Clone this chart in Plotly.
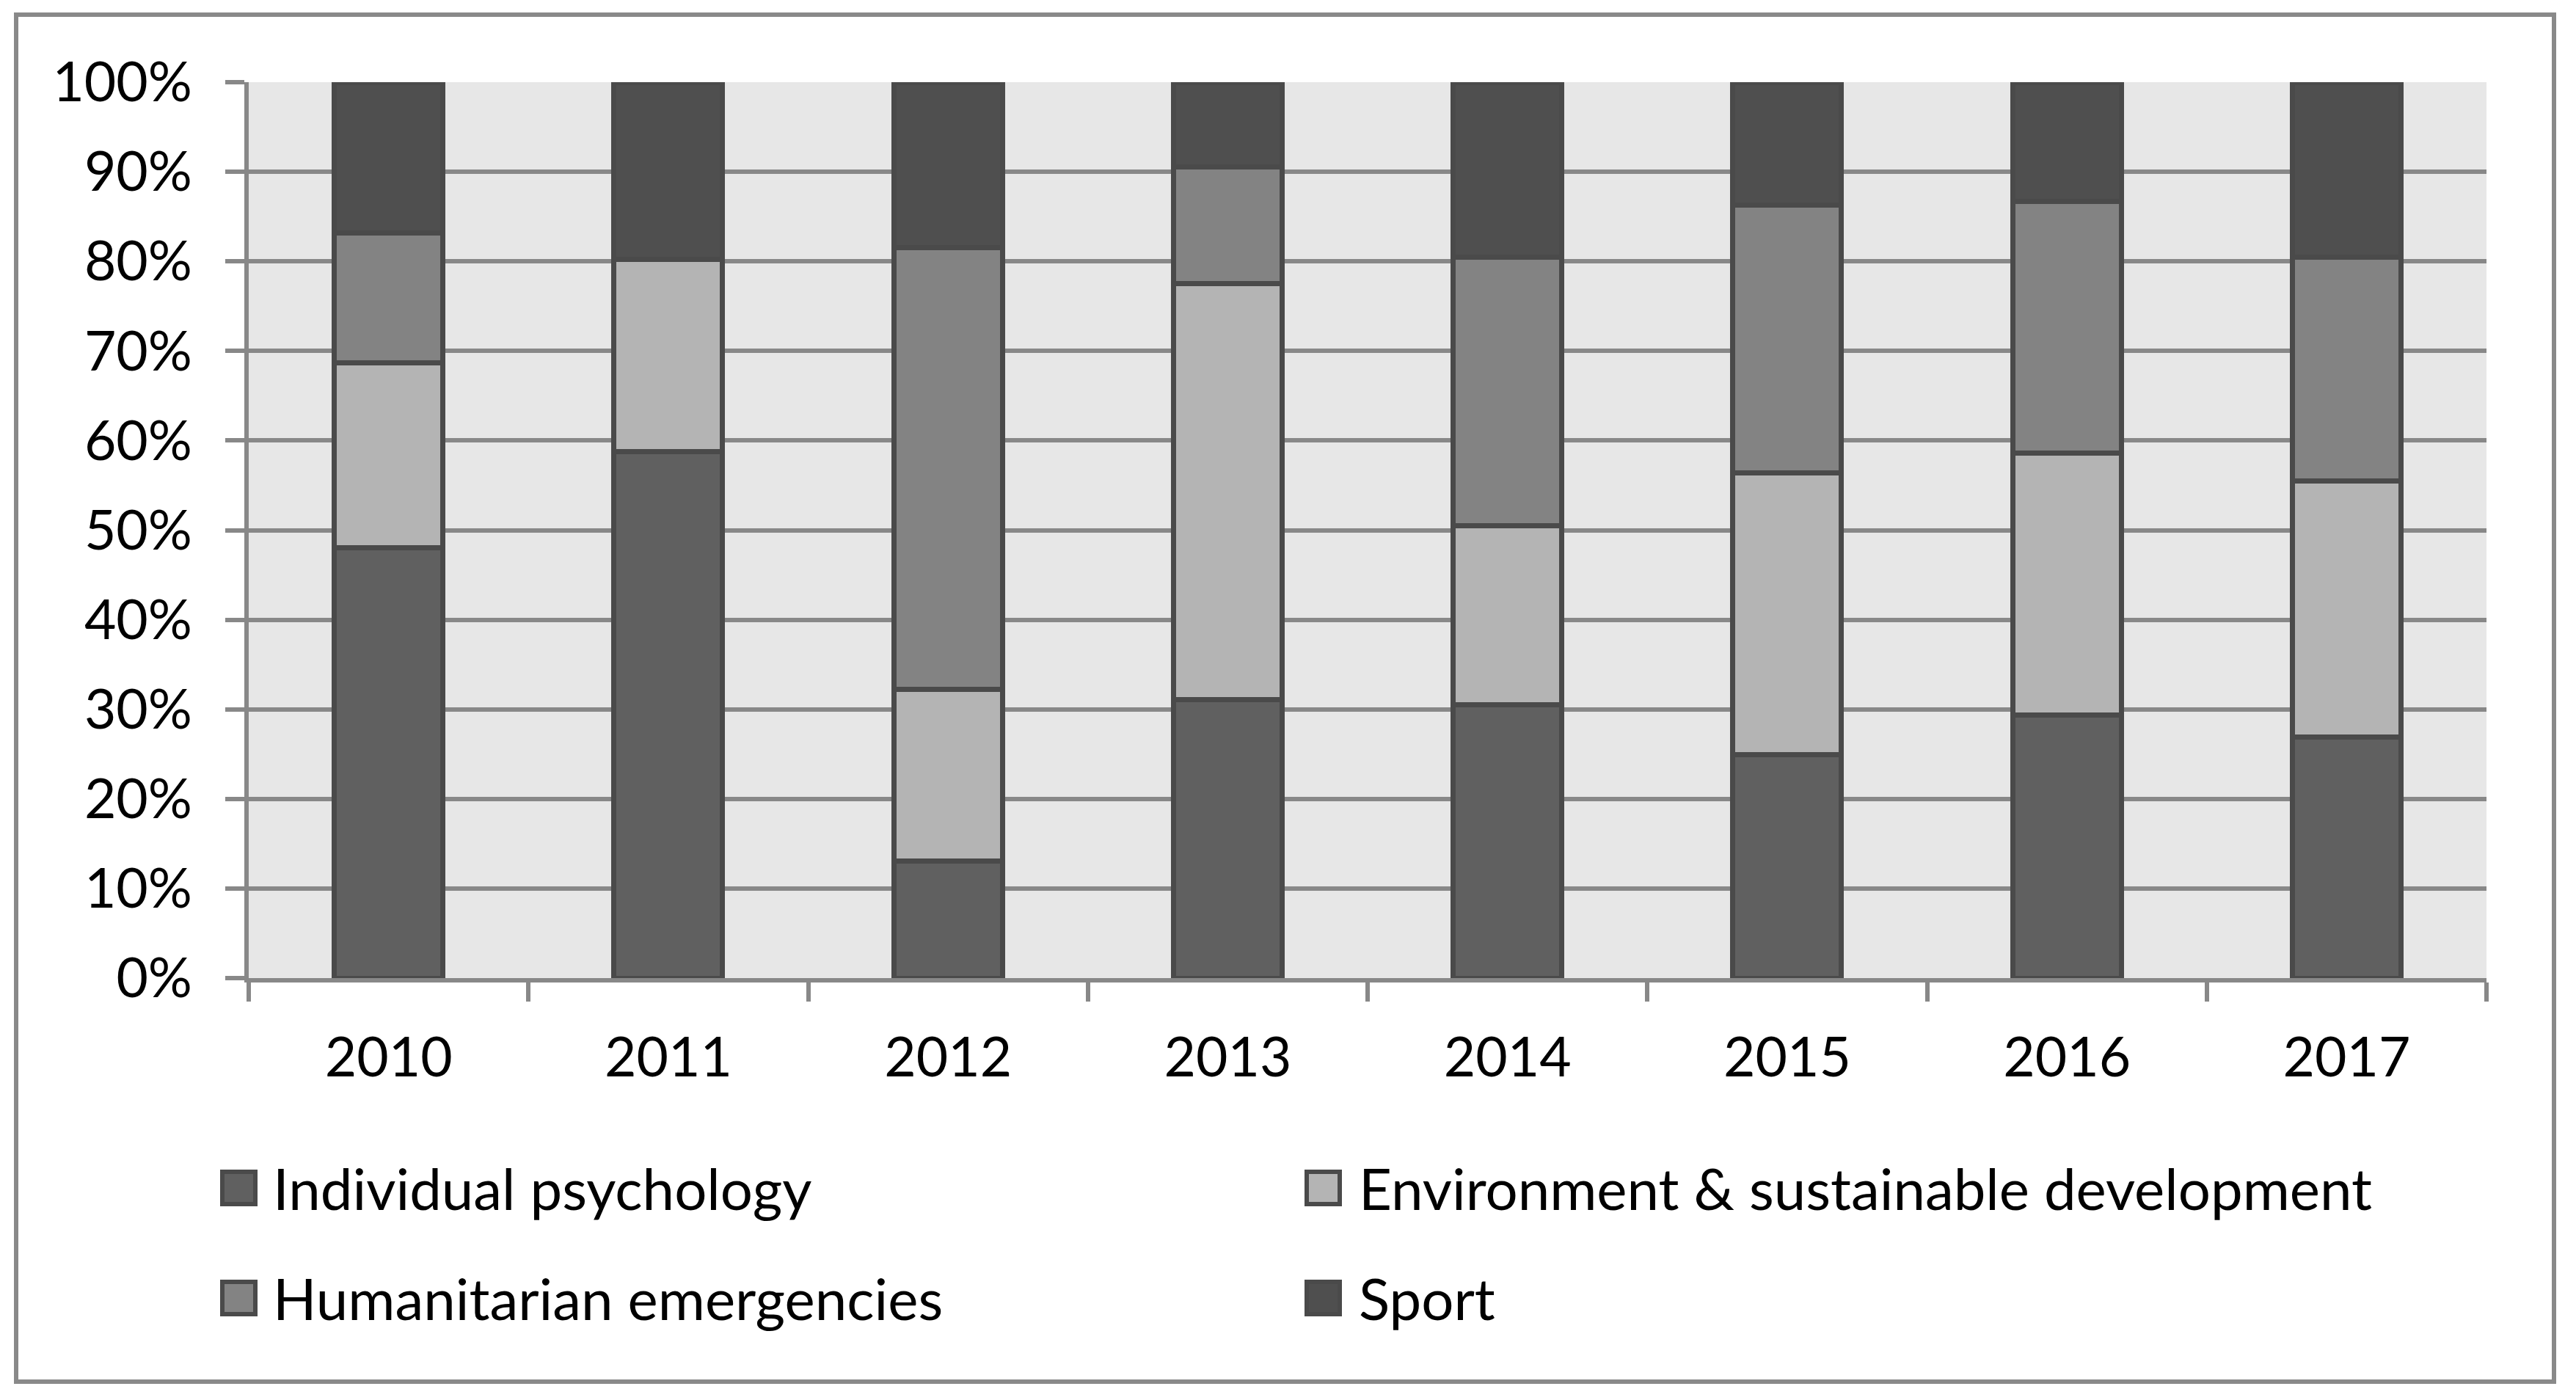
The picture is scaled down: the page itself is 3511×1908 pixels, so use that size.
import plotly.graph_objects as go

years = ['2010', '2011', '2012', '2013', '2014', '2015', '2016', '2017']
individual = [48.0, 58.8, 13.1, 31.1, 30.5, 24.9, 29.4, 26.9]
environment = [20.7, 21.4, 19.1, 46.4, 20.0, 31.5, 29.2, 28.6]
humanitarian = [14.5, 0.0, 49.3, 13.0, 30.0, 29.9, 28.1, 25.0]
sport = [16.8, 19.8, 18.5, 9.5, 19.5, 13.7, 13.3, 19.5]
series_names = ['Individual psychology', 'Environment & sustainable development',
                'Humanitarian emergencies', 'Sport']
y_tick_vals = [0, 10, 20, 30, 40, 50, 60, 70, 80, 90, 100]
y_tick_text = ['0%', '10%', '20%', '30%', '40%', '50%', '60%', '70%', '80%', '90%', '100%']

colors = ['#606060', '#b4b4b4', '#838383', '#4f4f4f']
outline = '#4a4a4a'

W, H = 3511, 1908
L, R, T, B = 339, 3389, 112, 1333
pw, ph = R - L, B - T
FONT = 'Lato'
FS = 75
LFS = 78


def px_x(p):
    return (p - L) / pw


def px_y(p):
    return (B - p) / ph


fig = go.Figure()
for name, vals, col in zip(series_names, [individual, environment, humanitarian, sport], colors):
    fig.add_trace(go.Bar(
        x=years, y=vals, name=name, showlegend=False,
        marker=dict(color=col, line=dict(color=outline, width=7)),
    ))

# legend (2 x 2 grid): swatch squares + labels
legend_swatch_x = [300, 1778, 300, 1778]
legend_row_y = [1619, 1619, 1769, 1769]
legend_text_x = [370, 1850, 370, 1850]
shapes = [dict(type='rect', xref='paper', yref='paper',
               x0=px_x(22), x1=px_x(3481), y0=px_y(1883), y1=px_y(20),
               line=dict(color='#898989', width=6), fillcolor='rgba(0,0,0,0)', layer='below')]
annotations = []
for name, col, sx, ry, tx in zip(series_names, colors, legend_swatch_x, legend_row_y, legend_text_x):
    shapes.append(dict(type='rect', xref='paper', yref='paper',
                       x0=px_x(sx + 3), x1=px_x(sx + 48), y0=px_y(ry + 22), y1=px_y(ry - 22),
                       line=dict(color=outline, width=6), fillcolor=col, layer='above'))
    annotations.append(dict(text=name, xref='paper', yref='paper', x=px_x(tx), y=px_y(ry),
                            xanchor='left', yanchor='middle', showarrow=False,
                            font=dict(family=FONT, size=LFS, color='black')))

fig.update_layout(
    width=W, height=H,
    margin=dict(l=L, r=W - R, t=T, b=H - B, autoexpand=False),
    barmode='stack', bargap=0.612,
    plot_bgcolor='#e7e7e7', paper_bgcolor='white',
    font=dict(family=FONT, size=FS, color='black'),
    showlegend=False,
    xaxis=dict(
        type='category', showgrid=False, showline=True, linecolor='#888888', linewidth=6,
        ticks='outside', tickson='boundaries', ticklen=26, tickwidth=6, tickcolor='#888888',
        ticklabelstandoff=38, tickfont=dict(family=FONT, size=FS),
    ),
    yaxis=dict(
        range=[0, 100], tickvals=y_tick_vals, ticktext=y_tick_text,
        showgrid=True, gridcolor='#888888', gridwidth=6,
        showline=True, linecolor='#888888', linewidth=6, zeroline=False,
        ticks='outside', ticklen=26, tickwidth=6, tickcolor='#888888',
        ticklabelstandoff=30, tickfont=dict(family=FONT, size=FS),
    ),
    shapes=shapes,
    annotations=annotations,
)

fig.write_html('out.html', config={'displayModeBar': False},
               post_script="document.body.style.margin='0px';")
